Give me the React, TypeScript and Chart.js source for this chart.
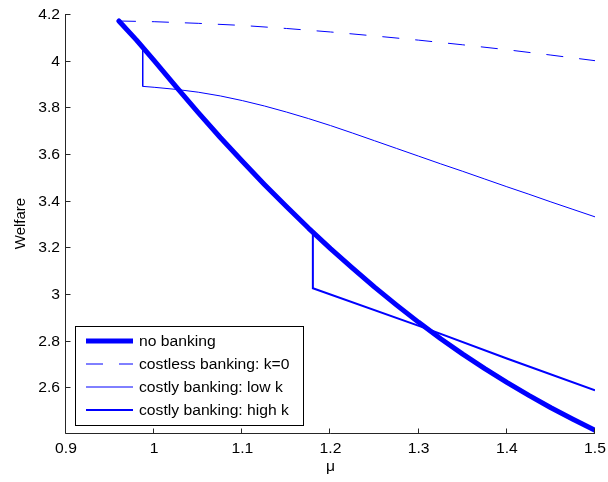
import React, { useEffect, useRef } from "react";
import { Chart, registerables } from "chart.js";

Chart.register(...registerables);

// Welfare against mu for each banking regime
const muNoBanking = [
  0.96, 0.98, 1.0, 1.025, 1.05, 1.075, 1.1, 1.125, 1.15, 1.175, 1.2, 1.225, 1.25, 1.275, 1.3,
  1.325, 1.35, 1.375, 1.4, 1.425, 1.45, 1.475, 1.5,
];
const welfareNoBanking = [
  4.17, 4.088, 4.0, 3.888, 3.778, 3.671, 3.569, 3.47, 3.375, 3.283, 3.195, 3.111, 3.03, 2.953,
  2.879, 2.809, 2.743, 2.681, 2.622, 2.566, 2.513, 2.464, 2.417,
];

const muCostless = [0.96, 1.0, 1.05, 1.1, 1.15, 1.2, 1.25, 1.3, 1.35, 1.4, 1.45, 1.5];
const welfareCostless = [4.17, 4.167, 4.16, 4.151, 4.138, 4.123, 4.106, 4.088, 4.068, 4.047, 4.024, 4.0];

const muLowK = [
  0.96, 0.98, 0.987, 0.987, 1.0, 1.025, 1.05, 1.075, 1.1, 1.125, 1.15, 1.175, 1.2, 1.225, 1.25,
  1.275, 1.3, 1.325, 1.35, 1.375, 1.4, 1.425, 1.45, 1.475, 1.5,
];
const welfareLowK = [
  4.17, 4.088, 4.058, 3.89, 3.886, 3.877, 3.865, 3.849, 3.829, 3.806, 3.78, 3.752, 3.722, 3.69,
  3.657, 3.624, 3.591, 3.558, 3.526, 3.493, 3.46, 3.428, 3.395, 3.363, 3.331,
];

const muHighK = [
  0.96, 0.98, 1.0, 1.025, 1.05, 1.075, 1.1, 1.125, 1.15, 1.175, 1.18, 1.18, 1.309, 1.4, 1.5,
];
const welfareHighK = [
  4.17, 4.088, 4.0, 3.888, 3.778, 3.671, 3.569, 3.47, 3.375, 3.283, 3.265, 3.025, 2.852, 2.724,
  2.588,
];

const seriesLabels = [
  "no banking",
  "costless banking: k=0",
  "costly banking: low k",
  "costly banking: high k",
];

const xTicks = [0.9, 1, 1.1, 1.2, 1.3, 1.4, 1.5];
const yTicks = [2.6, 2.8, 3, 3.2, 3.4, 3.6, 3.8, 4, 4.2];
const xTitle = "μ";
const yTitle = "Welfare";

const BLUE = "#0000ff";
const AXIS = "#262626";
const FAMILY = '"Liberation Sans", Arial, Helvetica, sans-serif';
const FONT = `14px ${FAMILY}`;
const STRETCH = 1.12;

const pts = (xs: number[], ys: number[]) => xs.map((x, i) => ({ x, y: ys[i] }));

function drawText(
  ctx: CanvasRenderingContext2D,
  text: string,
  x: number,
  y: number,
  align: CanvasTextAlign
) {
  ctx.save();
  ctx.translate(x, y);
  ctx.scale(STRETCH, 1);
  ctx.textAlign = align;
  ctx.textBaseline = "alphabetic";
  ctx.fillText(text, 0, 0);
  ctx.restore();
}

// Left/bottom axes with inward ticks, tick labels and axis titles
const axesPlugin = {
  id: "axesPlugin",
  afterDatasetsDraw(chart: any) {
    const { ctx, chartArea } = chart;
    const xs = chart.scales.x;
    const ys = chart.scales.y;
    const left = chartArea.left - 0.5;
    const bottom = chartArea.bottom + 0.5;
    ctx.save();
    ctx.strokeStyle = AXIS;
    ctx.lineWidth = 1;
    ctx.beginPath();
    ctx.moveTo(left, chartArea.top);
    ctx.lineTo(left, bottom);
    ctx.lineTo(chartArea.right, bottom);
    ctx.stroke();

    ctx.beginPath();
    xTicks.forEach((v) => {
      const px = Math.round(xs.getPixelForValue(v)) - 0.5;
      ctx.moveTo(px, bottom);
      ctx.lineTo(px, bottom - 5);
    });
    yTicks.forEach((v) => {
      const py = Math.round(ys.getPixelForValue(v)) + 0.5;
      ctx.moveTo(left, py);
      ctx.lineTo(left + 5, py);
    });
    ctx.stroke();

    ctx.fillStyle = "#000";
    ctx.font = FONT;
    xTicks.forEach((v) => {
      drawText(ctx, String(v), xs.getPixelForValue(v), chartArea.bottom + 20, "center");
    });
    yTicks.forEach((v) => {
      drawText(ctx, String(v), chartArea.left - 6, ys.getPixelForValue(v) + 5, "right");
    });

    drawText(ctx, xTitle, (chartArea.left + chartArea.right) / 2, chartArea.bottom + 38, "center");

    ctx.save();
    ctx.font = `15px ${FAMILY}`;
    ctx.translate(25, (chartArea.top + chartArea.bottom) / 2);
    ctx.rotate(-Math.PI / 2);
    ctx.textAlign = "center";
    ctx.textBaseline = "alphabetic";
    ctx.fillText(yTitle, 0, 0);
    ctx.restore();
    ctx.restore();
  },
};

// Boxed legend inside the lower-left corner of the plot
const legendPlugin = {
  id: "boxLegend",
  afterDraw(chart: any) {
    const { ctx } = chart;
    const boxX = 75.5;
    const boxY = 326.5;
    const boxW = 228;
    const boxH = 99;
    ctx.save();
    ctx.fillStyle = "#fff";
    ctx.fillRect(boxX, boxY, boxW, boxH);
    ctx.strokeStyle = "#000";
    ctx.lineWidth = 1;
    ctx.strokeRect(boxX, boxY, boxW, boxH);

    ctx.font = FONT;
    chart.data.datasets.forEach((ds: any, i: number) => {
      const cy = 341 + i * 23;
      ctx.save();
      ctx.strokeStyle = ds.borderColor;
      ctx.lineWidth = ds.borderWidth;
      ctx.setLineDash(ds.borderDash || []);
      ctx.beginPath();
      ctx.moveTo(86, cy);
      ctx.lineTo(133, cy);
      ctx.stroke();
      ctx.restore();
      ctx.fillStyle = "#000";
      drawText(ctx, ds.label, 139, cy + 5, "left");
    });
    ctx.restore();
  },
};

export default function App() {
  const canvasRef = useRef<HTMLCanvasElement | null>(null);

  useEffect(() => {
    if (!canvasRef.current) return;
    const chart = new Chart(canvasRef.current, {
      type: "line",
      data: {
        datasets: [
          {
            label: seriesLabels[0],
            data: pts(muNoBanking, welfareNoBanking),
            borderColor: BLUE,
            borderWidth: 5,
            borderCapStyle: "round",
            borderJoinStyle: "round",
          },
          {
            label: seriesLabels[1],
            data: pts(muCostless, welfareCostless),
            borderColor: BLUE,
            borderWidth: 1,
            borderDash: [17, 16],
          },
          {
            label: seriesLabels[2],
            data: pts(muLowK, welfareLowK),
            borderColor: BLUE,
            borderWidth: 1,
          },
          {
            label: seriesLabels[3],
            data: pts(muHighK, welfareHighK),
            borderColor: BLUE,
            borderWidth: 2,
          },
        ],
      },
      options: {
        responsive: false,
        animation: false,
        devicePixelRatio: 1,
        elements: {
          point: { radius: 0, hoverRadius: 0 },
          line: { tension: 0, fill: false },
        },
        layout: { padding: { top: 14, right: 13, left: 0, bottom: 0 } },
        plugins: {
          legend: { display: false },
          tooltip: { enabled: false },
        },
        events: [],
        scales: {
          x: {
            type: "linear",
            min: 0.9,
            max: 1.5,
            grid: { display: false },
            border: { display: false },
            ticks: { display: false },
            afterFit: (s: any) => {
              s.height = 49;
            },
          },
          y: {
            type: "linear",
            min: 2.405,
            max: 4.2,
            grid: { display: false },
            border: { display: false },
            ticks: { display: false },
            afterFit: (s: any) => {
              s.width = 66;
            },
          },
        },
      },
      plugins: [axesPlugin, legendPlugin],
    } as any);
    return () => chart.destroy();
  }, []);

  return (
    <div style={{ position: "fixed", left: 0, top: 0, width: 608, height: 482, background: "#fff" }}>
      <canvas ref={canvasRef} width={608} height={482} />
    </div>
  );
}
